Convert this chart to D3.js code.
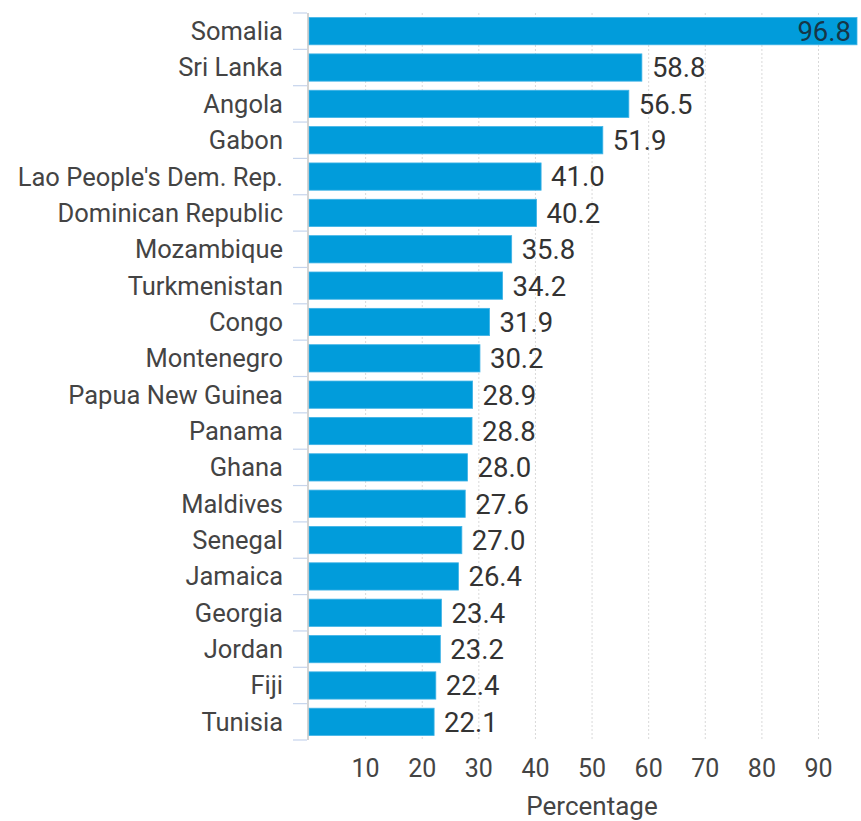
<!DOCTYPE html>
<html>
<head>
<meta charset="utf-8">
<script src="https://cdn.jsdelivr.net/npm/d3@7"></script>
<style>
  body { margin: 0; background: #fff; }
  text { font-family: Roboto, "Noto Sans", sans-serif; }
</style>
</head>
<body>
<svg id="chart" width="861" height="821"></svg>
<script>
// data
var countries = ["Somalia", "Sri Lanka", "Angola", "Gabon", "Lao People's Dem. Rep.",
  "Dominican Republic", "Mozambique", "Turkmenistan", "Congo", "Montenegro",
  "Papua New Guinea", "Panama", "Ghana", "Maldives", "Senegal", "Jamaica",
  "Georgia", "Jordan", "Fiji", "Tunisia"];
var values = [96.8, 58.8, 56.5, 51.9, 41.0, 40.2, 35.8, 34.2, 31.9, 30.2,
  28.9, 28.8, 28.0, 27.6, 27.0, 26.4, 23.4, 23.2, 22.4, 22.1];
var xTicks = [10, 20, 30, 40, 50, 60, 70, 80, 90];
var xTitle = "Percentage";

var data = countries.map((c, i) => ({name: c, value: values[i]}));

var svg = d3.select('#chart');

var xScale = d3.scaleLinear().domain([0, 96.8]).range([309, 857]);
var yScale = d3.scaleBand().domain(countries).range([13, 740])
                .paddingInner(0.25).paddingOuter(0.125);

// dotted grid
svg.append('g').selectAll('line')
  .data(xTicks)
  .join('line')
  .attr('x1', d => xScale(d)).attr('x2', d => xScale(d))
  .attr('y1', 13).attr('y2', 740)
  .attr('stroke', '#d9d9d9')
  .attr('stroke-width', 1)
  .attr('stroke-dasharray', '2,2');

// bars
svg.append('g').selectAll('rect')
  .data(data)
  .join('rect')
  .attr('x', xScale(0))
  .attr('y', d => yScale(d.name))
  .attr('width', d => xScale(d.value) - xScale(0))
  .attr('height', yScale.bandwidth())
  .attr('fill', '#019cdb')
  .attr('stroke', '#40b3e6')
  .attr('stroke-width', 0.8);

// y axis: line plus boundary ticks
svg.append('line')
  .attr('x1', 308).attr('x2', 308)
  .attr('y1', 13).attr('y2', 740)
  .attr('stroke', '#b8b8b8').attr('stroke-width', 1.2);

var bounds = countries.map(c => yScale(c) - yScale.step() * yScale.paddingInner() / 2);
bounds.push(740);
svg.append('g').selectAll('line')
  .data(bounds)
  .join('line')
  .attr('x1', 293).attr('x2', 307)
  .attr('y1', d => d).attr('y2', d => d)
  .attr('stroke', '#c6d4ec').attr('stroke-width', 1.2);

// category labels
svg.append('g').selectAll('text')
  .data(data)
  .join('text')
  .attr('x', 283)
  .attr('y', d => yScale(d.name) + yScale.bandwidth() / 2)
  .attr('dy', '0.35em')
  .attr('text-anchor', 'end')
  .attr('font-size', 25.5)
  .attr('fill', '#444')
  .text(d => d.name);

// value labels
svg.append('g').selectAll('text')
  .data(data)
  .join('text')
  .attr('x', d => d.value > 90 ? xScale(d.value) - 6 : xScale(d.value) + 10)
  .attr('y', d => yScale(d.name) + yScale.bandwidth() / 2)
  .attr('dy', '0.36em')
  .attr('text-anchor', d => d.value > 90 ? 'end' : 'start')
  .attr('font-size', 27.5)
  .attr('fill', d => d.value > 90 ? '#163647' : '#333')
  .text(d => d.value.toFixed(1));

// x tick labels
svg.append('g').selectAll('text')
  .data(xTicks)
  .join('text')
  .attr('x', d => xScale(d))
  .attr('y', 777)
  .attr('text-anchor', 'middle')
  .attr('font-size', 25)
  .attr('fill', '#444')
  .text(d => d);

svg.append('text')
  .attr('x', 592).attr('y', 815)
  .attr('text-anchor', 'middle')
  .attr('font-size', 26)
  .attr('fill', '#444')
  .text(xTitle);
</script>
</body>
</html>
